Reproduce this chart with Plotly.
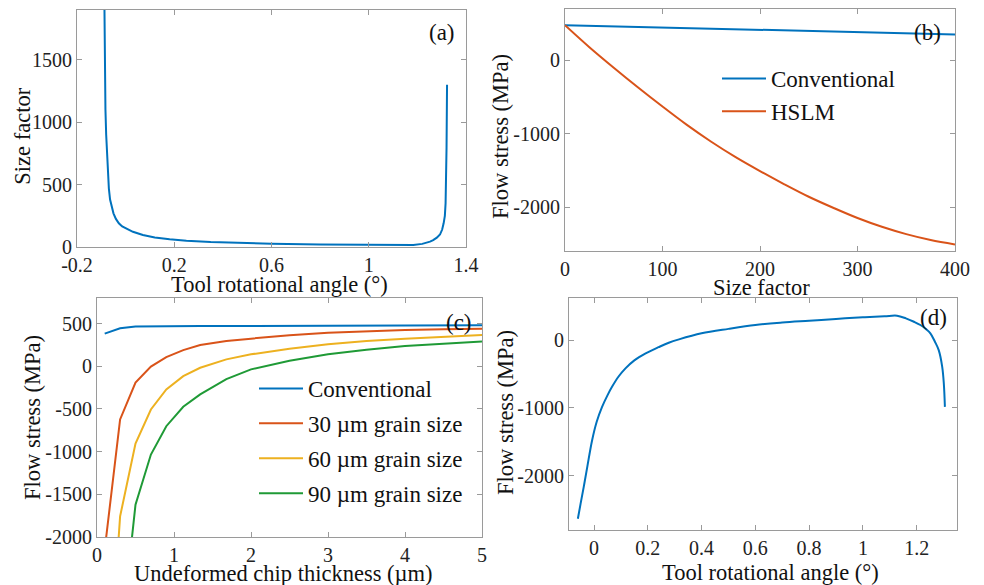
import plotly.graph_objects as go

# ---------------- data ----------------
# (a) size factor vs tool rotational angle
a_angle = [-0.087, -0.086, -0.085, -0.083, -0.080, -0.077, -0.073, -0.069, -0.064, -0.058,
           -0.050, -0.040, -0.028, -0.014, 0.002, 0.030, 0.071, 0.120, 0.181, 0.250,
           0.350, 0.450, 0.600, 0.800, 1.000, 1.100, 1.150, 1.183, 1.220, 1.240,
           1.252, 1.265, 1.280, 1.293, 1.302, 1.308, 1.313, 1.316, 1.318, 1.320,
           1.321, 1.322]
a_size = [1900, 1600, 1350, 1100, 900, 760, 600, 470, 380, 320,
          270, 225, 190, 165, 148, 122, 96, 76, 62, 50,
          40, 33, 26, 20, 16, 14, 15, 17, 25, 33,
          43, 55, 75, 100, 140, 190, 250, 350, 500, 800,
          1050, 1300]

# (b) flow stress vs size factor
b_conv_x = [0, 100, 200, 300, 400]
b_conv_y = [480, 447, 413, 382, 352]
b_hslm_x = [0, 25, 50, 75, 100, 125, 150, 175, 200, 225, 250, 275, 300, 325, 350, 375, 400]
b_hslm_y = [480, 180, -100, -370, -630, -880, -1110, -1320, -1510, -1690, -1860, -2010,
            -2150, -2270, -2370, -2450, -2510]

# (c) flow stress vs undeformed chip thickness
c_h = [0.1, 0.3, 0.5, 0.7, 0.9, 1.12, 1.34, 1.68, 2.0, 2.5, 3.0, 3.5, 4.0, 4.5, 5.0]
c_conv = [383, 445, 465, 468, 470, 471, 472, 472, 473, 474, 475, 476, 477, 478, 480]
c_30 = [-2150, -623, -192, -3, 108, 190, 249, 296, 324, 365, 394, 412, 425, 434, 441]
c_60 = [-4400, -1758, -905, -506, -271, -115, -17, 81, 140, 205, 257, 295, 324, 347, 366]
c_90 = [-8000, -3300, -1621, -1034, -702, -474, -330, -150, -36, 65, 140, 195, 237, 266, 289]

# (d) flow stress vs tool rotational angle
d_angle = [-0.060, -0.050, -0.038, -0.025, -0.007, 0.010, 0.030, 0.050, 0.067, 0.090,
           0.117, 0.150, 0.192, 0.240, 0.278, 0.316, 0.400, 0.500, 0.600, 0.700,
           0.800, 0.900, 1.000, 1.080, 1.127, 1.160, 1.190, 1.214, 1.235, 1.251,
           1.268, 1.282, 1.295, 1.301, 1.305]
d_stress = [-2634, -2415, -2160, -1870, -1477, -1205, -985, -815, -690, -545,
            -418, -300, -197, -105, -39, 10, 99, 165, 222, 258,
            285, 312, 335, 350, 359, 320, 270, 222, 160, 99,
            -25, -148, -394, -640, -985]

# tick labels
a_xticks = [-0.2, 0.2, 0.6, 1.0, 1.4]
a_xtext = ["-0.2", "0.2", "0.6", "1", "1.4"]
a_yticks = [0, 500, 1000, 1500]
a_ytext = ["0", "500", "1000", "1500"]
b_xticks = [0, 100, 200, 300, 400]
b_xtext = ["0", "100", "200", "300", "400"]
b_yticks = [-2000, -1000, 0]
b_ytext = ["-2000", "-1000", "0"]
c_xticks = [0, 1, 2, 3, 4, 5]
c_xtext = ["0", "1", "2", "3", "4", "5"]
c_yticks = [-2000, -1500, -1000, -500, 0, 500]
c_ytext = ["-2000", "-1500", "-1000", "-500", "0", "500"]
d_xticks = [0, 0.2, 0.4, 0.6, 0.8, 1.0, 1.2]
d_xtext = ["0", "0.2", "0.4", "0.6", "0.8", "1", "1.2"]
d_yticks = [-2000, -1000, 0]
d_ytext = ["-2000", "-1000", "0"]

# axis titles
a_xtitle, a_ytitle = "Tool rotational angle (°)", "Size factor"
b_xtitle, b_ytitle = "Size factor", "Flow stress (MPa)"
c_xtitle, c_ytitle = "Undeformed chip thickness (µm)", "Flow stress (MPa)"
d_xtitle, d_ytitle = "Tool rotational angle (°)", "Flow stress (MPa)"

BLUE = "#0072BD"
RED = "#D95319"
YEL = "#EDB120"
GRN = "#1F9A36"
FONT = "Liberation Serif, DejaVu Serif, Times New Roman, serif"

W, H = 984, 585

def px_x(a, b):
    return [a / W, b / W]

def px_y(top, bottom):
    return [1 - bottom / H, 1 - top / H]

fig = go.Figure()

fig.add_trace(go.Scatter(x=a_angle, y=a_size, mode="lines", line=dict(color=BLUE, width=2),
                         showlegend=False, xaxis="x", yaxis="y"))
fig.add_trace(go.Scatter(x=b_conv_x, y=b_conv_y, mode="lines", name="Conventional",
                         line=dict(color=BLUE, width=2), xaxis="x2", yaxis="y2",
                         legend="legend", legendgroup="b1"))
fig.add_trace(go.Scatter(x=b_hslm_x, y=b_hslm_y, mode="lines", name="HSLM",
                         line=dict(color=RED, width=2, shape="spline"), xaxis="x2", yaxis="y2",
                         legend="legend", legendgroup="b2"))
for yy, nm, col, g in [(c_conv, "Conventional", BLUE, "c1"), (c_30, "30 µm grain size", RED, "c2"),
                       (c_60, "60 µm grain size", YEL, "c3"), (c_90, "90 µm grain size", GRN, "c4")]:
    fig.add_trace(go.Scatter(x=c_h, y=yy, mode="lines", name=nm, line=dict(color=col, width=2),
                             xaxis="x3", yaxis="y3", legend="legend2", legendgroup=g))
fig.add_trace(go.Scatter(x=d_angle, y=d_stress, mode="lines",
                         line=dict(color=BLUE, width=2, shape="spline", smoothing=1.0),
                         showlegend=False, xaxis="x4", yaxis="y4"))

axis_common = dict(showline=True, linecolor="#9a9a9a", linewidth=1, mirror="allticks",
                   ticks="inside", ticklen=5, tickcolor="#9a9a9a", showgrid=False,
                   zeroline=False, automargin=False,
                   tickfont=dict(family=FONT, size=20, color="#222"))

def ax(domain, rng, tv, tt, anchor, tls=0):
    d = dict(axis_common)
    d.update(domain=domain, range=rng, tickvals=tv, ticktext=tt, anchor=anchor,
             ticklabelstandoff=tls)
    return d

fig.update_layout(
    width=W, height=H, margin=dict(l=0, r=0, t=0, b=0),
    paper_bgcolor="white", plot_bgcolor="white",
    font=dict(family=FONT, size=20, color="#111"),
    xaxis=ax(px_x(77, 466), [-0.2, 1.4], a_xticks, a_xtext, "y", 0),
    yaxis=ax(px_y(10, 247), [0, 1900], a_yticks, a_ytext, "x"),
    xaxis2=ax(px_x(565, 955), [0, 400], b_xticks, b_xtext, "y2", 0),
    yaxis2=ax(px_y(9, 251), [-2600, 700], b_yticks, b_ytext, "x2"),
    xaxis3=ax(px_x(97, 482), [0, 5], c_xticks, c_xtext, "y3", 0),
    yaxis3=ax(px_y(298, 537), [-2000, 800], c_yticks, c_ytext, "x3"),
    xaxis4=ax(px_x(569, 957), [-0.093, 1.35], d_xticks, d_xtext, "y4", 0),
    yaxis4=ax(px_y(298, 530), [-2800, 620], d_yticks, d_ytext, "x4"),
    legend=dict(x=717 / W, y=1 - 57 / H, xanchor="left", yanchor="top", itemwidth=44,
                bgcolor="rgba(0,0,0,0)", font=dict(family=FONT, size=23, color="#111"),
                traceorder="grouped", tracegroupgap=0),
    legend2=dict(x=254 / W, y=1 - 367 / H, xanchor="left", yanchor="top", itemwidth=44,
                 bgcolor="rgba(0,0,0,0)", font=dict(family=FONT, size=23, color="#111"),
                 traceorder="grouped", tracegroupgap=2),
)

# axis titles placed as text at the reference positions
xtitles = [(a_xtitle, 279, 284), (b_xtitle, 761, 287.5), (c_xtitle, 283, 573.5), (d_xtitle, 770, 572)]
for txt, xp, yp in xtitles:
    fig.add_annotation(text=txt, x=xp / W, y=1 - yp / H, xref="paper", yref="paper",
                       showarrow=False, xanchor="center", yanchor="middle",
                       font=dict(family=FONT, size=22.5, color="#111"))
ytitles = [(a_ytitle, 21.7, 136), (b_ytitle, 500, 137), (c_ytitle, 32, 418), (d_ytitle, 505, 413)]
for txt, xp, yp in ytitles:
    fig.add_annotation(text=txt, x=xp / W, y=1 - yp / H, xref="paper", yref="paper",
                       showarrow=False, xanchor="center", yanchor="middle", textangle=-90,
                       font=dict(family=FONT, size=22.5, color="#111"))

labels = [("(a)", 442, 32), ("(b)", 927, 32), ("(c)", 459, 322), ("(d)", 933, 317)]
for txt, xp, yp in labels:
    fig.add_annotation(text=txt, x=xp / W, y=1 - yp / H, xref="paper", yref="paper",
                       showarrow=False, xanchor="center", yanchor="middle",
                       font=dict(family=FONT, size=23, color="#111"))

fig.write_html("out.html")
